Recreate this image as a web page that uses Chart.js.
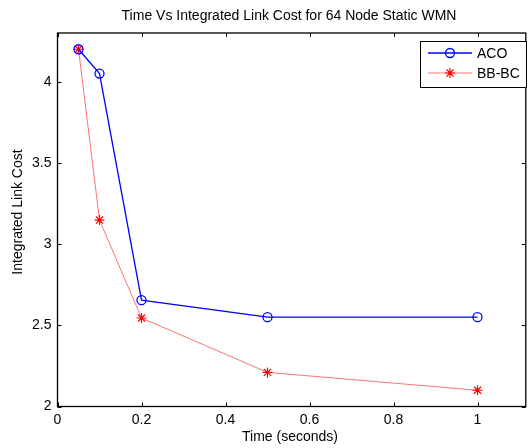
<!DOCTYPE html>
<html>
<head>
<meta charset="utf-8">
<script src="https://cdn.jsdelivr.net/npm/chart.js@4.4.1/dist/chart.umd.min.js"></script>
<style>
  html, body { margin: 0; padding: 0; background: #fff; }
  #wrap { width: 532px; height: 448px; }
</style>
</head>
<body>
<div id="wrap"><canvas id="cost" width="532" height="448"></canvas></div>
<script>
// values
const times = [0.05, 0.1, 0.2, 0.5, 1];
const acoCost = [4.2, 4.05, 2.655, 2.55, 2.55];
const bbbcCost = [4.2, 3.148, 2.545, 2.21, 2.1];
const xTicks = [0, 0.2, 0.4, 0.6, 0.8, 1];
const yTicks = [2, 2.5, 3, 3.5, 4];

const FONT = "'Liberation Sans', Arial, sans-serif";
const toPoints = (xs, ys) => xs.map((x, i) => ({ x, y: ys[i] }));

// MATLAB-like frame: box, inward ticks on all sides, titles and legend
const matlabFrame = {
  id: 'matlabFrame',
  afterDraw(chart) {
    const { ctx, chartArea: a, scales } = chart;
    const tl = 4;
    ctx.save();
    ctx.strokeStyle = '#000';
    ctx.lineWidth = 1.3;
    ctx.strokeRect(a.left, a.top, a.right - a.left, a.bottom - a.top);

    ctx.lineWidth = 1;
    ctx.beginPath();
    xTicks.forEach(v => {
      const px = Math.round(scales.x.getPixelForValue(v)) + 0.5;
      ctx.moveTo(px, a.bottom); ctx.lineTo(px, a.bottom - tl);
      ctx.moveTo(px, a.top); ctx.lineTo(px, a.top + tl);
    });
    yTicks.forEach(v => {
      const py = Math.round(scales.y.getPixelForValue(v)) + 0.5;
      ctx.moveTo(a.left, py); ctx.lineTo(a.left + tl, py);
      ctx.moveTo(a.right, py); ctx.lineTo(a.right - tl, py);
    });
    ctx.stroke();

    // titles
    ctx.fillStyle = '#000';
    ctx.font = '14px ' + FONT;
    ctx.textAlign = 'center';
    ctx.textBaseline = 'middle';
    ctx.fillText('Time Vs Integrated Link Cost for 64 Node Static WMN', 289, 16);
    ctx.fillText('Time (seconds)', 290, 437);
    ctx.save();
    ctx.translate(18, 212);
    ctx.rotate(-Math.PI / 2);
    ctx.fillText('Integrated Link Cost', 0, 0);
    ctx.restore();

    // legend
    const lx = 420.5, ly = 41.5, lw = 106, lh = 46;
    ctx.fillStyle = '#fff';
    ctx.fillRect(lx, ly, lw, lh);
    ctx.strokeStyle = '#000';
    ctx.lineWidth = 1;
    ctx.strokeRect(lx, ly, lw, lh);
    chart.data.datasets.forEach((ds, i) => {
      const y = 53 + i * 20;
      ctx.strokeStyle = ds.borderColor;
      ctx.lineWidth = ds.borderWidth;
      ctx.beginPath();
      ctx.moveTo(428, y); ctx.lineTo(472, y);
      ctx.stroke();
      ctx.strokeStyle = ds.pointBorderColor;
      ctx.fillStyle = 'rgba(0,0,0,0)';
      ctx.lineWidth = ds.pointBorderWidth;
      Chart.helpers.drawPoint(ctx, {
        pointStyle: ds.pointStyle, radius: ds.pointRadius,
        borderWidth: ds.pointBorderWidth, rotation: 0
      }, 450, y);
      ctx.fillStyle = '#000';
      ctx.font = '14px ' + FONT;
      ctx.textAlign = 'left';
      ctx.fillText(ds.label, 477, y + 1);
    });
    ctx.restore();
  }
};

new Chart(document.getElementById('cost'), {
  type: 'line',
  data: {
    datasets: [{
      label: 'ACO',
      data: toPoints(times, acoCost),
      borderColor: '#0000ff',
      borderWidth: 1.3,
      pointStyle: 'circle',
      pointRadius: 4.5,
      pointBorderWidth: 1.3,
      pointBorderColor: '#0000ff',
      pointBackgroundColor: 'rgba(0,0,0,0)',
      tension: 0
    }, {
      label: 'BB-BC',
      data: toPoints(times, bbbcCost),
      borderColor: 'rgba(255,0,0,0.55)',
      borderWidth: 1,
      pointStyle: 'star',
      pointRadius: 5,
      pointBorderWidth: 1.2,
      pointBorderColor: '#ff0000',
      pointBackgroundColor: 'rgba(0,0,0,0)',
      tension: 0
    }]
  },
  options: {
    responsive: false,
    animation: false,
    layout: { padding: { top: 33, right: 2, left: 0, bottom: 0 } },
    plugins: {
      legend: { display: false },
      title: { display: false },
      tooltip: { enabled: false }
    },
    scales: {
      x: {
        type: 'linear',
        min: 0,
        max: 1.115,
        afterBuildTicks: s => { s.ticks = xTicks.map(v => ({ value: v })); },
        afterFit: s => { s.height = 41.5; },
        grid: { display: false, drawTicks: false },
        border: { display: false },
        ticks: {
          padding: 5,
          color: '#000',
          font: { family: FONT, size: 14 },
          callback: v => String(v)
        }
      },
      y: {
        type: 'linear',
        min: 2,
        max: 4.3,
        afterBuildTicks: s => { s.ticks = yTicks.map(v => ({ value: v })); },
        afterFit: s => { s.width = 57.5; },
        grid: { display: false, drawTicks: false },
        border: { display: false },
        ticks: {
          padding: 6,
          color: '#000',
          font: { family: FONT, size: 14 },
          callback: v => String(v)
        }
      }
    }
  },
  plugins: [matlabFrame]
});
</script>
</body>
</html>
